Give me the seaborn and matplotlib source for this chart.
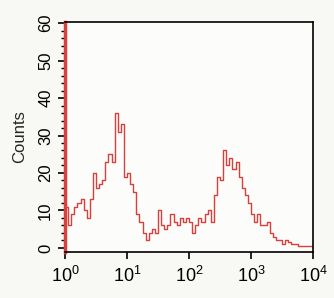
import numpy as np
import pandas as pd
import matplotlib
matplotlib.use("Agg")
import matplotlib.pyplot as plt
import matplotlib.ticker as mticker
import seaborn as sns

# log10 bin starts (0.05-decade channels) and counts
log_start = [0.00, 0.05, 0.10, 0.15, 0.20, 0.25, 0.30, 0.35, 0.40, 0.45,
             0.50, 0.55, 0.60, 0.65, 0.70, 0.75, 0.80, 0.85, 0.90, 0.95,
             1.00, 1.05, 1.10, 1.15, 1.20, 1.25, 1.30, 1.35, 1.40, 1.45,
             1.50, 1.55, 1.60, 1.65, 1.70, 1.75, 1.80, 1.85, 1.90, 1.95,
             2.00, 2.05, 2.10, 2.15, 2.20, 2.25, 2.30, 2.35, 2.40, 2.45,
             2.50, 2.55, 2.60, 2.65, 2.70, 2.75, 2.80, 2.85, 2.90, 2.95,
             3.00, 3.05, 3.10, 3.15, 3.20, 3.25, 3.30, 3.35, 3.40, 3.45,
             3.50, 3.55, 3.60, 3.65, 3.70, 3.75, 3.80, 3.85, 3.90, 3.95]
counts = [11, 6, 9, 11, 12, 13, 10, 8, 13, 20,
          16, 17, 18, 23, 25, 23, 36, 31, 33, 19,
          20, 17, 15, 9, 7, 4, 2, 4, 5, 4,
          10, 6, 5, 6, 9, 7, 6, 8, 7, 8,
          7, 4, 6, 8, 7, 9, 10, 7, 14, 19,
          18, 26, 22, 24, 21, 23, 19, 16, 14, 12,
          9, 7, 9, 6, 6, 7, 4, 3, 2, 2,
          1, 2, 1.5, 1, 1, 0.5, 0.5, 0.5, 0.5, 0.5]
y_ticks = [0, 10, 20, 30, 40, 50, 60]
x_ticks = [1, 10, 100, 1000, 10000]

df = pd.DataFrame({"fl": [10 ** (s + 0.025) for s in log_start], "n": counts})

sns.set_style("ticks")
plt.rcParams["font.family"] = ["Liberation Sans", "DejaVu Sans"]

fig = plt.figure(figsize=(3.34, 2.98), dpi=100, facecolor="#f8f8f5")
ax = fig.add_axes([65/334, 1 - 252/298, (313 - 65)/334, (252 - 22)/298])
ax.set_facecolor("#fcfcfb")

red = "#d8403c"
sns.histplot(data=df, x="fl", weights="n", log_scale=True, binwidth=0.05,
             binrange=(0, 4), element="step", fill=False, color=red,
             linewidth=1.0, ax=ax)

ax.set_xlim(1, 1e4)
ax.set_ylim(-1.1, 60.3)
ax.set_xticks(x_ticks)
ax.xaxis.set_major_formatter(mticker.LogFormatterSciNotation())
ax.xaxis.set_minor_locator(mticker.LogLocator(base=10, subs=np.arange(2, 10)))
ax.xaxis.set_minor_formatter(mticker.NullFormatter())
ax.set_yticks(y_ticks)
ax.yaxis.set_minor_locator(mticker.MultipleLocator(2))

ax.tick_params(axis="both", which="major", direction="out", length=5, width=1.2,
               labelsize=13, colors="black")
ax.tick_params(axis="x", which="major", pad=5)
ax.tick_params(axis="both", which="minor", direction="out", length=3, width=1.0,
               colors="black")
ax.tick_params(axis="y", labelrotation=90, labelsize=12)
for lab in ax.get_yticklabels():
    lab.set_verticalalignment("center")

for s in ["top", "right", "bottom"]:
    ax.spines[s].set_visible(True)
    ax.spines[s].set_color("black")
    ax.spines[s].set_linewidth(1.2)
ax.spines["left"].set_color(red)
ax.spines["left"].set_linewidth(2.5)

ax.set_xlabel("")
ax.set_ylabel("Counts", fontsize=12, labelpad=8)

fig.savefig("out.png", dpi=100, facecolor=fig.get_facecolor())
